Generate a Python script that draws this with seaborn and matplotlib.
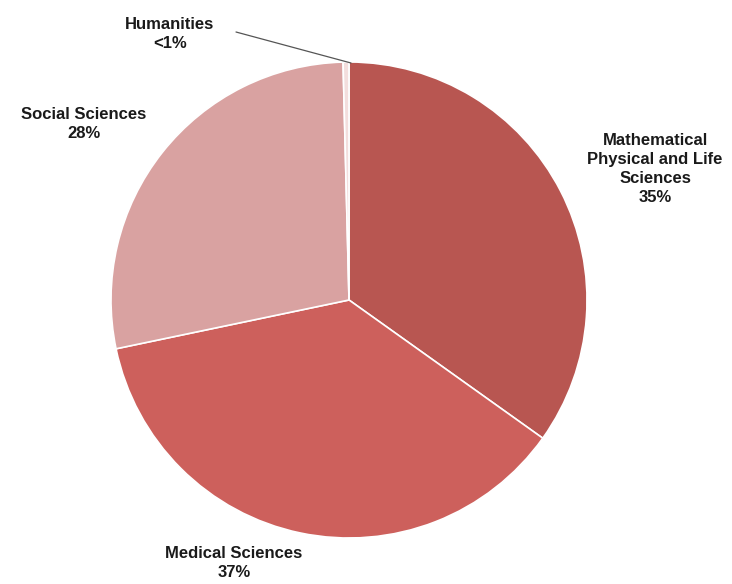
import matplotlib
matplotlib.use("Agg")
import matplotlib.pyplot as plt
import seaborn as sns

# slice data, clockwise from 12 o'clock
categories = ["Mathematical\nPhysical and Life\nSciences", "Medical Sciences", "Social Sciences", "Humanities"]
shares = [35, 37, 28, 0.4]
share_labels = ["35%", "37%", "28%", "<1%"]
colors = ["#B85651", "#CD605C", "#D9A2A1", "#F3DEDD"]

sns.set_theme(style="white")
plt.rcParams['font.family'] = ['Liberation Sans', 'DejaVu Sans']

W, H = 732, 584
cx, cy, R = 349, 300, 238

fig = plt.figure(figsize=(W / 100, H / 100), dpi=100)
ax = fig.add_axes([0, 0, 1, 1])
ax.pie(shares, colors=colors, startangle=90, counterclock=False, radius=1,
       wedgeprops=dict(edgecolor="white", linewidth=1.2))
ax.set_xlim(-cx / R, (W - cx) / R)
ax.set_ylim(-(H - cy) / R, cy / R)
ax.set_aspect("auto")
ax.axis("off")


def px(x, y):
    return (x - cx) / R, (cy - y) / R


# label positions in pixel space (center of text block)
label_pos = [(655, 169), (234, 563), (84, 124), (170, 34)]
for name, pct, (x, y) in zip(categories, share_labels, label_pos):
    tx, ty = px(x, y)
    ax.text(tx, ty, name + "\n" + pct, ha="center", va="center",
            fontsize=12, fontweight="bold", color="#1a1a1a", linespacing=1.35)

# leader line for the thin Humanities slice
x0, y0 = px(236, 32)
x1, y1 = px(351, 63)
ax.plot([x0, x1], [y0, y1], color="#555555", linewidth=0.9)

fig.savefig("out.png", dpi=100)
